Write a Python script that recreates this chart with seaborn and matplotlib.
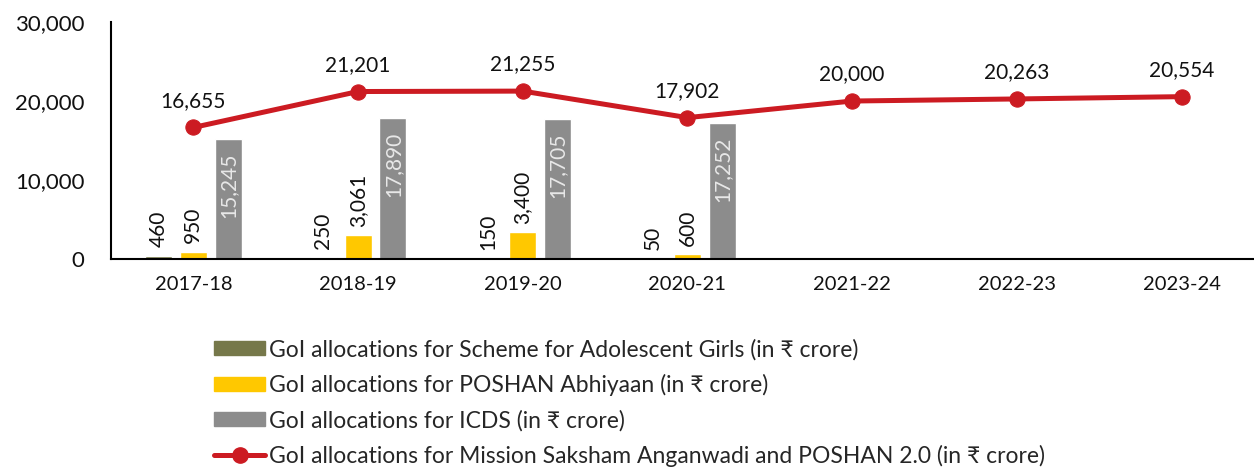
import numpy as np
import pandas as pd
import seaborn as sns
import matplotlib.pyplot as plt
from matplotlib.patches import Patch
from matplotlib.lines import Line2D

years = ["2017-18", "2018-19", "2019-20", "2020-21", "2021-22", "2022-23", "2023-24"]
sag = [460, 250, 150, 50, None, None, None]
poshan = [950, 3061, 3400, 600, None, None, None]
icds = [15245, 17890, 17705, 17252, None, None, None]
mission = [16655, 21201, 21255, 17902, 20000, 20263, 20554]

series_names = [
    "GoI allocations for Scheme for Adolescent Girls (in ₹ crore)",
    "GoI allocations for POSHAN Abhiyaan (in ₹ crore)",
    "GoI allocations for ICDS (in ₹ crore)",
]
line_name = "GoI allocations for Mission Saksham Anganwadi and POSHAN 2.0 (in ₹ crore)"
colors = ["#76784A", "#FFC800", "#8C8C8C"]
red = "#CC1B22"

sns.set_style("white")
plt.rcParams["font.family"] = ["Lato", "DejaVu Sans"]

fig = plt.figure(figsize=(12.54, 4.67), dpi=100)
ax = fig.add_axes([0.0885, 0.445, 0.9115, 0.508])

x = np.arange(len(years))
w = 0.164
off = 0.212
for i, (vals, col) in enumerate(zip([sag, poshan, icds], colors)):
    xs = [xx + (i - 1) * off for xx, v in zip(x, vals) if v is not None]
    vs = [v for v in vals if v is not None]
    ax.bar(xs, vs, width=w, color=col, zorder=2)
    for xx, v in zip(xs, vs):
        if i < 2:
            ax.annotate(f"{v:,}", (xx, v), xytext=(0, 6), textcoords="offset points",
                        rotation=90, ha="center", va="bottom", fontsize=15, color="#111111")
        else:
            ax.annotate(f"{v:,}", (xx, v), xytext=(0, -10), textcoords="offset points",
                        rotation=90, ha="center", va="top", fontsize=15, color="#E8E8E8")

df = pd.DataFrame({"year": x, "value": mission})
sns.lineplot(data=df, x="year", y="value", color=red, lw=3.6, marker="o",
             markersize=11, markeredgecolor=red, ax=ax, zorder=3)
for xx, v in zip(x, mission):
    ax.annotate(f"{v:,}", (xx, v), xytext=(0, 12), textcoords="offset points",
                ha="center", va="bottom", fontsize=15, color="#111111")

ax.set_xlim(-0.5, 6.44)
ax.set_ylim(0, 30000)
ax.set_yticks([0, 10000, 20000, 30000])
ax.set_yticklabels([f"{t:,}" for t in [0, 10000, 20000, 30000]], fontsize=16)
ax.set_xticks(x)
ax.set_xticklabels(years, fontsize=14.5)
ax.tick_params(axis="x", length=0, pad=12, colors="#111111")
ax.tick_params(axis="y", length=0, pad=19, colors="#111111")
ax.set_xlabel("")
ax.set_ylabel("")
for s in ["top", "right"]:
    ax.spines[s].set_visible(False)
ax.spines["left"].set_color("black")
ax.spines["bottom"].set_color("black")
ax.spines["left"].set_linewidth(1.5)
ax.spines["bottom"].set_linewidth(1.5)
ax.grid(False)

handles = [Patch(color=c) for c in colors]
handles.append(Line2D([], [], color=red, lw=3.6, marker="o", markersize=11))
fig.legend(handles, series_names + [line_name], loc="upper left",
           bbox_to_anchor=(0.171, 0.275), frameon=False, fontsize=16.5,
           handlelength=2.2, handleheight=0.6, handletextpad=0.2,
           labelspacing=0.6, borderaxespad=0, borderpad=0)

fig.savefig("out.png", dpi=100)
